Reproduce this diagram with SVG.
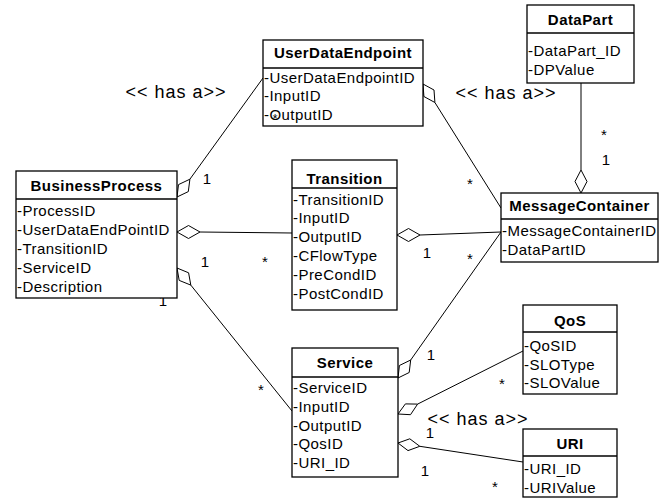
<svg xmlns="http://www.w3.org/2000/svg" width="671" height="498" viewBox="0 0 671 498">
<style>
.box{fill:#fff;stroke:#000;stroke-width:1.3}
.sep{stroke:#000;stroke-width:1.3}
.t{font-family:"Liberation Sans",Arial,sans-serif;font-size:15px;font-weight:bold;text-anchor:middle;letter-spacing:0.45px}
.a{font-family:"Liberation Sans",Arial,sans-serif;font-size:15px;letter-spacing:0.45px}
.c{stroke:#000;stroke-width:1;fill:none}
.d{fill:#fff;stroke:#000;stroke-width:1}
.m{font-family:"Liberation Sans",Arial,sans-serif;font-size:15px;text-anchor:middle}
.h{font-family:"Liberation Sans",Arial,sans-serif;font-size:18px;text-anchor:middle;letter-spacing:1px}
</style>
<rect width="671" height="498" fill="#fff"/>
<g id="connectors">
<line class="c" x1="189.9" y1="179.2" x2="263" y2="78"/>
<polygon class="d" points="177,197 188.3,191.6 189.9,179.2 178.5,184.6"/>
<line class="c" x1="200" y1="232" x2="292" y2="233"/>
<polygon class="d" points="177,232 188.5,225.5 200,232 188.5,238.5"/>
<line class="c" x1="190.8" y1="285.1" x2="292" y2="411"/>
<polygon class="d" points="177,268 188.6,272.8 190.8,285.1 179.2,280.4"/>
<line class="c" x1="434.9" y1="102.5" x2="501" y2="208"/>
<polygon class="d" points="423,84 434,90 434.9,102.5 423.9,96.5"/>
<line class="c" x1="420" y1="235" x2="501" y2="232"/>
<polygon class="d" points="397,235 408.5,228.5 420,235 408.5,241.5"/>
<line class="c" x1="410.7" y1="360" x2="501" y2="232"/>
<polygon class="d" points="398,378 409.2,372.5 410.7,360 399.4,365.5"/>
<line class="c" x1="417.6" y1="404.1" x2="523" y2="351"/>
<polygon class="d" points="398,414 410.5,414.7 417.6,404.1 405.4,403.9"/>
<line class="c" x1="419.8" y1="446.3" x2="523" y2="462"/>
<polygon class="d" points="398,443 408,450.6 419.8,446.3 409.8,438.8"/>
<line class="c" x1="581" y1="83" x2="581" y2="170"/>
<polygon class="d" points="581,170 587,181.5 581,193 575,181.5"/>
</g>
<g id="labels">
<text class="h" x="176" y="97.5">&lt;&lt; has a&gt;&gt;</text>
<text class="h" x="506" y="98.5">&lt;&lt; has a&gt;&gt;</text>
<text class="h" x="478" y="424.5">&lt;&lt; has a&gt;&gt;</text>
<text class="m" x="207" y="183.5">1</text>
<text class="m" x="205" y="267">1</text>
<text class="m" x="265" y="266.5">*</text>
<text class="m" x="163" y="306">1</text>
<text class="m" x="261" y="394.5">*</text>
<text class="m" x="404" y="121.5">1</text>
<text class="m" x="470" y="188.5">*</text>
<text class="m" x="427" y="257.5">1</text>
<text class="m" x="470" y="263.5">*</text>
<text class="m" x="513" y="266.5">*</text>
<text class="m" x="431" y="359.5">1</text>
<text class="m" x="604" y="139.5">*</text>
<text class="m" x="606" y="164.5">1</text>
<text class="m" x="502" y="388.5">*</text>
<text class="m" x="430" y="437.5">1</text>
<text class="m" x="425" y="475.5">1</text>
<text class="m" x="495" y="491.5">*</text>
</g>
<g id="BusinessProcess">
<rect class="box" x="16" y="171" width="161" height="127"/>
<line class="sep" x1="16" y1="199" x2="177" y2="199"/>
<text class="t" x="96.5" y="190.5">BusinessProcess</text>
<text class="a" x="17" y="215.5">-ProcessID</text>
<text class="a" x="17" y="234.5">-UserDataEndPointID</text>
<text class="a" x="17" y="253.5">-TransitionID</text>
<text class="a" x="17" y="272.5">-ServiceID</text>
<text class="a" x="17" y="291.5">-Description</text>
</g>
<g id="UserDataEndpoint">
<rect class="box" x="263" y="40" width="160" height="86"/>
<line class="sep" x1="263" y1="68" x2="423" y2="68"/>
<text class="t" x="343" y="57.5">UserDataEndpoint</text>
<text class="a" x="264" y="82.5">-UserDataEndpointID</text>
<text class="a" x="264" y="101">-InputID</text>
<text class="a" x="264" y="119.5">-OutputID</text>
<text class="m" x="275" y="122.5" style="font-size:12px">*</text>
</g>
<g id="DataPart">
<rect class="box" x="527" y="5" width="107" height="78"/>
<line class="sep" x1="527" y1="33" x2="634" y2="33"/>
<text class="t" x="580.5" y="24.5">DataPart</text>
<text class="a" x="528" y="56">-DataPart_ID</text>
<text class="a" x="528" y="75">-DPValue</text>
</g>
<g id="Transition">
<rect class="box" x="292" y="160" width="105" height="150"/>
<line class="sep" x1="292" y1="188" x2="397" y2="188"/>
<text class="t" x="344.5" y="183.5">Transition</text>
<text class="a" x="293" y="204.5">-TransitionID</text>
<text class="a" x="293" y="223.3">-InputID</text>
<text class="a" x="293" y="242.1">-OutputID</text>
<text class="a" x="293" y="260.9">-CFlowType</text>
<text class="a" x="293" y="279.7">-PreCondID</text>
<text class="a" x="293" y="298.5">-PostCondID</text>
</g>
<g id="MessageContainer">
<rect class="box" x="501" y="193" width="157" height="69"/>
<line class="sep" x1="501" y1="219" x2="658" y2="219"/>
<text class="t" x="579.5" y="210.5">MessageContainer</text>
<text class="a" x="502" y="235.5">-MessageContainerID</text>
<text class="a" x="502" y="254.5">-DataPartID</text>
</g>
<g id="Service">
<rect class="box" x="292" y="348" width="106" height="129"/>
<line class="sep" x1="292" y1="377" x2="398" y2="377"/>
<text class="t" x="345" y="367.5">Service</text>
<text class="a" x="293" y="392.5">-ServiceID</text>
<text class="a" x="293" y="411.5">-InputID</text>
<text class="a" x="293" y="430.5">-OutputID</text>
<text class="a" x="293" y="448.5">-QosID</text>
<text class="a" x="293" y="467.5">-URI_ID</text>
</g>
<g id="QoS">
<rect class="box" x="523" y="305" width="94" height="89"/>
<line class="sep" x1="523" y1="332" x2="617" y2="332"/>
<text class="t" x="570" y="325.5">QoS</text>
<text class="a" x="524" y="350.5">-QoSID</text>
<text class="a" x="524" y="369.5">-SLOType</text>
<text class="a" x="524" y="387.5">-SLOValue</text>
</g>
<g id="URI">
<rect class="box" x="523" y="429" width="94" height="68"/>
<line class="sep" x1="523" y1="456" x2="617" y2="456"/>
<text class="t" x="570" y="449">URI</text>
<text class="a" x="524" y="473.5">-URI_ID</text>
<text class="a" x="524" y="492.5">-URIValue</text>
</g>
</svg>
